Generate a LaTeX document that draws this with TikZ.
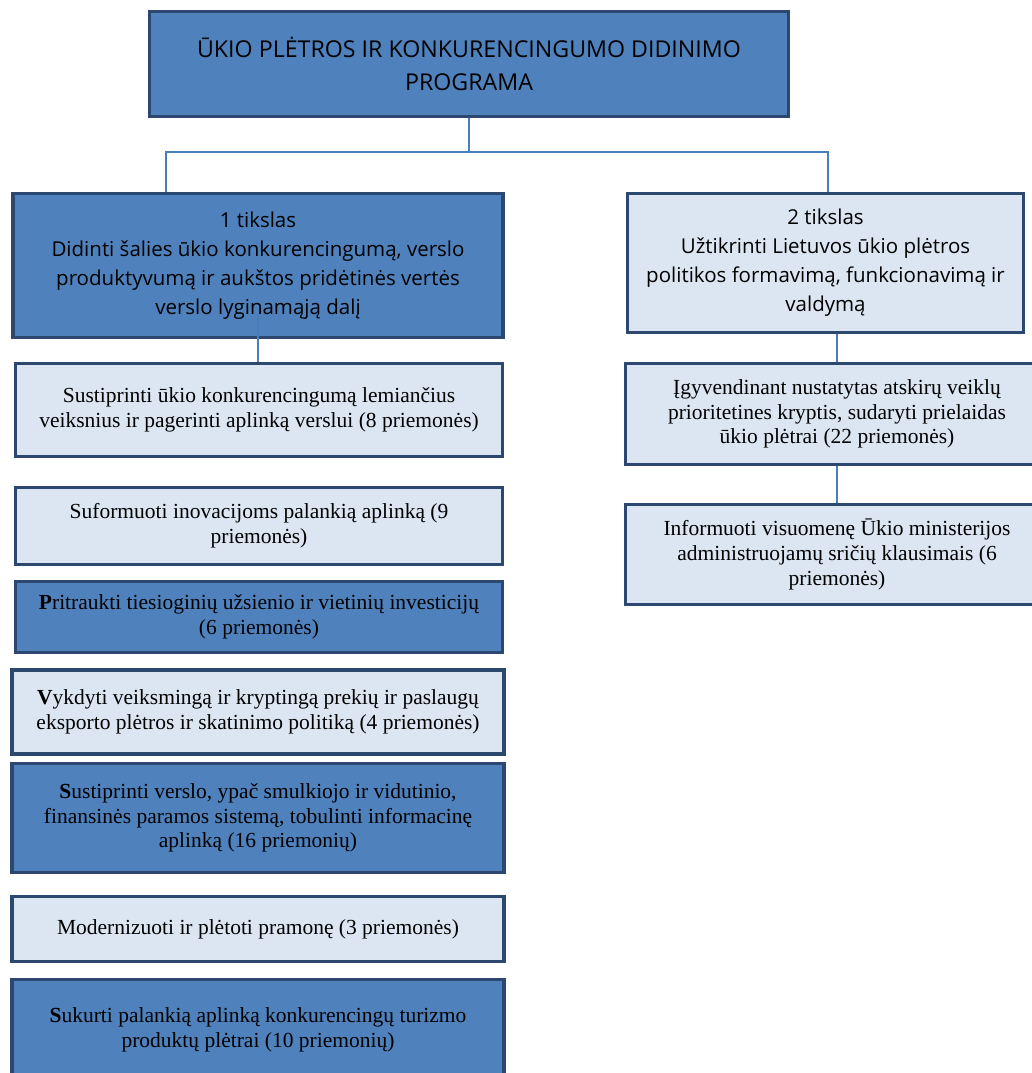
\documentclass[tikz,border=0pt]{standalone}
\usepackage{fontspec}
\setmainfont{Liberation Serif}
\newfontfamily\uifont{Open Sans}
\usepackage{tikz}
\usetikzlibrary{positioning}

\definecolor{boxblue}{HTML}{4F81BD}
\definecolor{boxpale}{HTML}{DCE6F2}
\definecolor{boxline}{HTML}{2C4870}
\definecolor{linkblue}{HTML}{4A7EBB}

\begin{document}
\begin{tikzpicture}[x=1pt,y=-1pt,
  box/.style={rectangle,draw=boxline,line width=3.5pt,align=center,inner sep=0pt},
  dark box/.style={box,fill=boxblue},
  pale box/.style={box,fill=boxpale},
  title text/.style={font=\uifont\fontsize{23.2}{33}\selectfont},
  goal text/.style={font=\uifont\fontsize{20.5}{29}\selectfont},
  task text/.style={font=\fontsize{21.5}{24.7}\selectfont},
  link/.style={draw=linkblue,line width=1.5pt}]

  \useasboundingbox (0,0) rectangle (1031,1073);

  % programa
  \node[dark box,title text,minimum width=639,minimum height=105] (prog) at (469,64)
    {ŪKIO PLĖTROS IR KONKURENCINGUMO DIDINIMO\\PROGRAMA};

  % tikslai
  \node[dark box,goal text,minimum width=490,minimum height=144] (goal1) at (258,265.5)
    {1 tikslas\\Didinti šalies ūkio konkurencingumą, verslo\\produktyvumą ir aukštos pridėtinės vertės\\verslo lyginamąją dalį};
  \node[pale box,goal text,minimum width=396,minimum height=139] (goal2) at (825.5,263)
    {2 tikslas\\Užtikrinti Lietuvos ūkio plėtros\\politikos formavimą, funkcionavimą ir\\valdymą};

  % 1 tikslo uždaviniai
  \node[pale box,task text,minimum width=487,minimum height=93] (task1) at (259,410)
    {Sustiprinti ūkio konkurencingumą lemiančius\\veiksnius ir pagerinti aplinką verslui (8 priemonės)};
  \node[pale box,task text,minimum width=487,minimum height=77] (task2) at (259,526)
    {Suformuoti inovacijoms palankią aplinką (9\\priemonės)};
  \node[dark box,task text,minimum width=487,minimum height=71] (task3) at (259,617)
    {\textbf{P}ritraukti tiesioginių užsienio ir vietinių investicijų\\(6 priemonės)};
  \node[pale box,task text,minimum width=492,minimum height=84] (task4) at (258,712)
    {\textbf{V}ykdyti veiksmingą ir kryptingą prekių ir paslaugų\\eksporto plėtros ir skatinimo politiką (4 priemonės)};
  \node[dark box,task text,minimum width=492,minimum height=109] (task5) at (258,818)
    {\textbf{S}ustiprinti verslo, ypač smulkiojo ir vidutinio,\\finansinės paramos sistemą, tobulinti informacinę\\aplinką (16 priemonių)};
  \node[pale box,task text,minimum width=492,minimum height=65] (task6) at (258,929)
    {Modernizuoti ir plėtoti pramonę (3 priemonės)};
  \node[dark box,task text,minimum width=492,minimum height=101] (task7) at (258,1030)
    {\textbf{S}ukurti palankią aplinką konkurencingų turizmo\\produktų plėtrai (10 priemonių)};

  % 2 tikslo uždaviniai
  \node[pale box,task text,minimum width=423,minimum height=101] (task8) at (837,414)
    {Įgyvendinant nustatytas atskirų veiklų\\prioritetines kryptis, sudaryti prielaidas\\ūkio plėtrai (22 priemonės)};
  \node[pale box,task text,minimum width=423,minimum height=100] (task9) at (837,554.5)
    {Informuoti visuomenę Ūkio ministerijos\\administruojamų sričių klausimais (6\\priemonės)};

  % jungtys
  \coordinate (fork) at (prog.south |- 0,152);
  \coordinate (forkL) at (166,152);
  \coordinate (forkR) at (828,152);
  \coordinate (g1in) at (258,314);
  \coordinate (g1dotA) at (105,288);
  \coordinate (g1dotB) at (105,318);
  \draw[link] (prog.south) -- (fork);
  \draw[link] (goal1.north -| forkL) -- (forkL) -- (forkR) -- (goal2.north -| forkR);
  \draw[link] (g1in) -- (g1in |- task1.north);
  \draw[link,line width=0.8pt,opacity=0.5] (g1dotA) -- (g1dotB);
  \draw[link] (goal2.south -| task8.north) -- (task8.north);
  \draw[link] (task8.south) -- (task9.north);
\end{tikzpicture}
\end{document}
